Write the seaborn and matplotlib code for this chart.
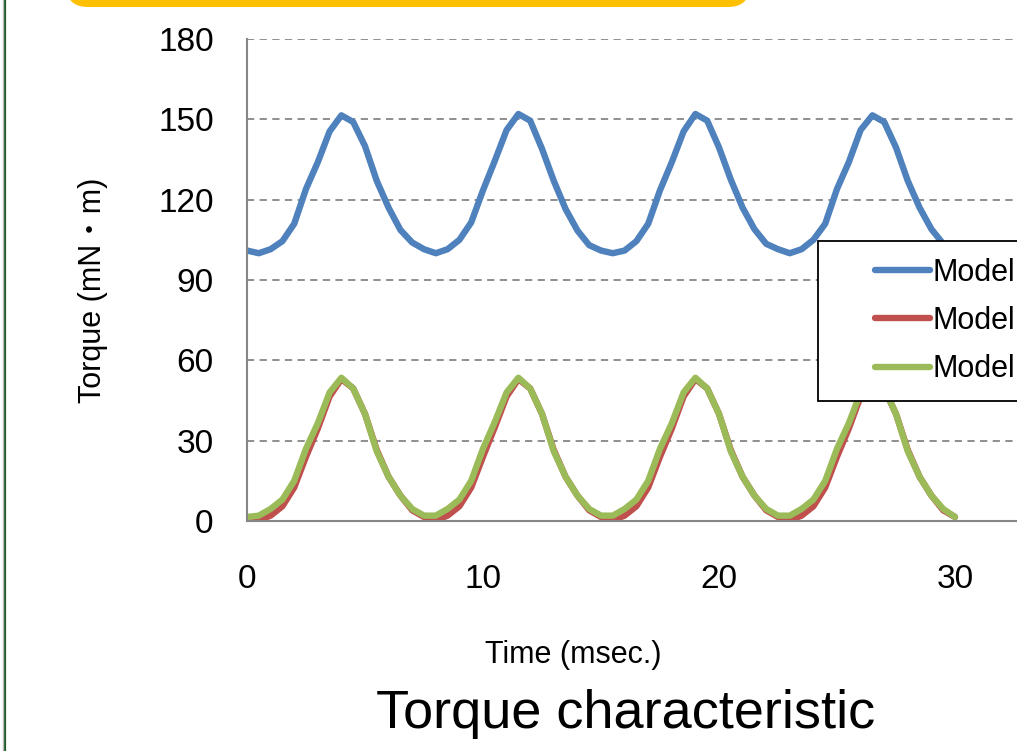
import numpy as np
import matplotlib
matplotlib.use("Agg")
import matplotlib.pyplot as plt
import seaborn as sns
from matplotlib.patches import FancyBboxPatch
from matplotlib.lines import Line2D
from matplotlib.legend_handler import HandlerLine2D
from matplotlib.transforms import IdentityTransform

# time axis (msec.), sampled every 0.5 msec
time_ms = np.arange(0, 30.01, 0.5)

# torque (mN・m)
model_blue = [
    101, 100, 101.5, 104.5, 111, 124, 134, 145.5, 151.5, 149, 140, 127, 117, 108.7, 104,
    101.5, 100, 101.5, 105, 111.5, 123.5, 134.5, 146, 152, 149.5, 139, 127, 116.5, 108.5, 103,
    101, 100, 101, 104.5, 111, 123.5, 134, 145.5, 152, 149.5, 139.5, 127.5, 117, 109, 103.5,
    101.5, 100, 101.5, 105, 111, 124, 134, 146, 151.5, 149, 139.5, 127, 117, 109, 103.5,
    101,
]
model_red = [
    1.0, 0.3, 2, 5.5, 12.5, 24, 34.5, 46.5, 53, 49.5, 40, 26.5, 16.5, 9.5, 4,
    1.5, 0.3, 2, 5.5, 12.5, 24, 35, 46.5, 53, 49.5, 40, 26.5, 16.5, 9.5, 4,
    1.5, 0.3, 2, 5.5, 12.5, 24, 34.5, 46.5, 53, 49.5, 40, 26.5, 16.5, 9.5, 4,
    1.5, 0.3, 2, 5.5, 12.5, 24, 34.5, 46.5, 53, 49.5, 40, 26.5, 16.5, 9.5, 4,
    1.5,
]
model_green = [
    1.5, 2, 4.5, 8, 15, 27, 36.5, 48, 53.5, 49.5, 40, 26, 16.5, 9.5, 4.5,
    2, 2, 4.5, 8, 15, 27, 37, 48, 53.5, 49.5, 40, 26, 16.5, 9.5, 4.5,
    2, 2, 4.5, 8, 15, 27, 36.5, 48, 53.5, 49.5, 40, 26, 16.5, 9.5, 4.5,
    2, 2, 4.5, 8, 15, 27, 36.5, 48, 53.5, 49.5, 40, 26, 16.5, 9.5, 4.5,
    1.5,
]
series_labels = ["Model", "Model", "Model"]
series_colors = ["#4F81BD", "#C0504D", "#9BBB59"]
y_ticks = [0, 30, 60, 90, 120, 150, 180]
x_ticks = [0, 10, 20, 30]

sns.set_style("white")
fonts = ["Liberation Sans", "DejaVu Sans"]
plt.rcParams["font.family"] = fonts
plt.rcParams["text.color"] = "black"
plt.rcParams["axes.labelcolor"] = "black"

W, H = 1017, 751
fig = plt.figure(figsize=(W / 100, H / 100), dpi=100)
ax = fig.add_axes([247 / W, 1 - 521 / H, (W - 247) / W, (521 - 39) / H])

for y, lab, col in zip([model_blue, model_red, model_green], series_labels, series_colors):
    sns.lineplot(x=time_ms, y=y, ax=ax, color=col, label=lab, linewidth=4.6,
                 solid_capstyle="round", solid_joinstyle="round")

ax.set_xlim(0, (W - 247) / 23.6)
ax.set_ylim(0, 180)
ax.set_xticks(x_ticks)
ax.set_yticks(y_ticks)
ax.tick_params(axis="both", length=0, labelsize=24, colors="black")
ax.tick_params(axis="x", pad=31)
ax.tick_params(axis="y", pad=24)
ax.yaxis.grid(True, linestyle=(0, (4, 3)), color="#868686", linewidth=1.3)
ax.xaxis.grid(False)
for s in ["top", "right"]:
    ax.spines[s].set_visible(False)
for s in ["left", "bottom"]:
    ax.spines[s].set_color("#868686")
    ax.spines[s].set_linewidth(1.5)

ax.set_xlabel("Time (msec.)", fontsize=22)
ax.xaxis.set_label_coords((573 - 247) / (W - 247), (521 - 655) / 482)
ax.xaxis.label.set_va("center")
ax.set_ylabel("Torque (mN・m)", fontsize=22, family=fonts[:1] + ["Noto Sans CJK JP", "DejaVu Sans"])
ax.yaxis.set_label_coords((93 - 247) / (W - 247), (521 - 290) / 482)
ax.yaxis.label.set_va("center")


class RightHandle(HandlerLine2D):
    def get_xdata(self, legend, xdescent, ydescent, width, height, fontsize):
        xdata = np.array([-xdescent + 0.42 * width, -xdescent + width])
        return xdata, xdata


handles, labels = ax.get_legend_handles_labels()
leg = ax.legend(handles, labels, loc="upper left",
                bbox_to_anchor=(818 / W, 1 - 241 / H), bbox_transform=fig.transFigure,
                borderaxespad=0, frameon=True, fancybox=False, framealpha=1,
                edgecolor="black", borderpad=0.55, handlelength=3.1, handletextpad=0.1,
                labelspacing=0.6, fontsize=22, handler_map={Line2D: RightHandle()})
leg.get_frame().set_linewidth(1.3)

fig.text(626 / W, 1 - 714 / H, "Torque characteristic", fontsize=39,
         ha="center", va="center")

# slide decorations: yellow header box and green frame line
box = FancyBboxPatch((66, H - 7), 684, 80, boxstyle="round,pad=0,rounding_size=22",
                     transform=IdentityTransform(), facecolor="#FFC000", edgecolor="none")
fig.add_artist(box)
fig.add_artist(Line2D([4.5, 4.5], [0, H], transform=IdentityTransform(),
                      color="#1D5C2A", linewidth=1.6))
fig.add_artist(Line2D([2.5, 2.5], [0, H], transform=IdentityTransform(),
                      color="#BBBBBB", linewidth=1.0))

fig.savefig("out.png", dpi=100)
